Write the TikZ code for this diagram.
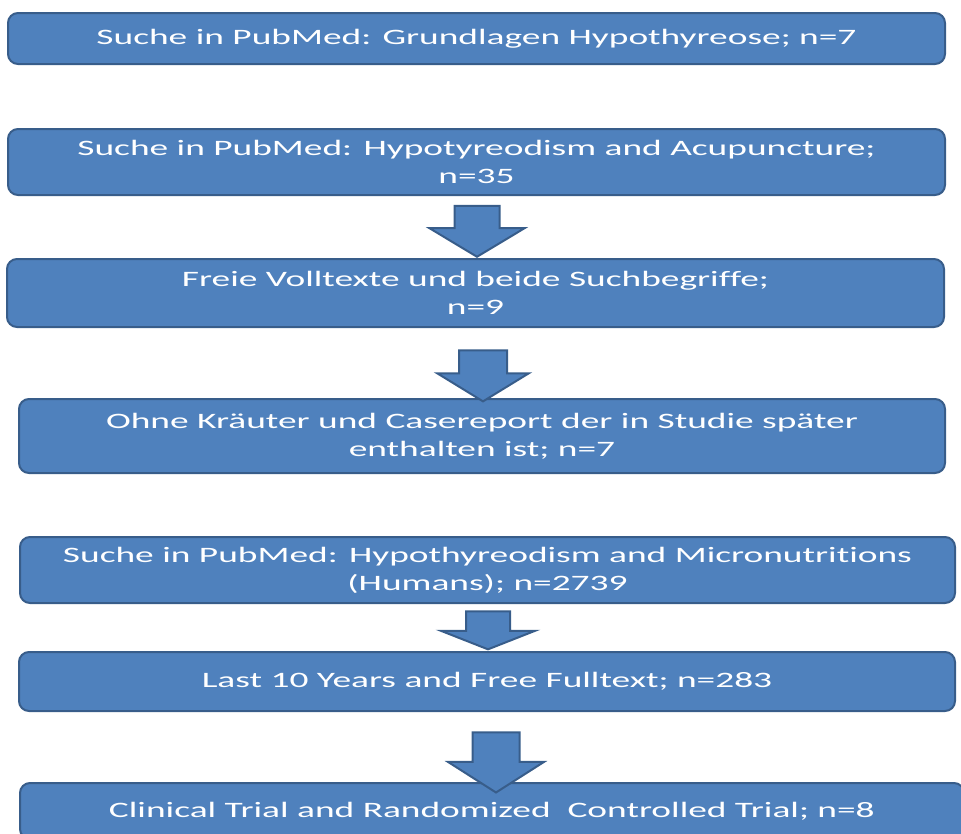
\documentclass[tikz,border=0pt]{standalone}
\usepackage{fontspec}
\newfontfamily\boxfont[FakeStretch=1.7,Ligatures=NoCommon]{Carlito}
\usetikzlibrary{shapes.arrows}
\definecolor{BoxBlue}{HTML}{4F81BD}
\definecolor{BoxEdge}{HTML}{385D8A}

\begin{document}
\begin{tikzpicture}[
  x=1pt,y=1pt,
  every node/.style={font=\boxfont\fontsize{22}{28}\selectfont},
  stage/.style={draw=BoxEdge,line width=2pt,rounded corners=10pt,fill=BoxBlue,
    text=white,align=center,inner sep=0pt},
  down/.style={single arrow,shape border rotate=270,draw=BoxEdge,line width=2pt,
    fill=BoxBlue,inner ysep=0pt}
]
  \useasboundingbox (0,0) rectangle (961,-833);
  \clip (0,0) rectangle (961,-833);
  % search blocks
  \node[stage,minimum width=937,minimum height=51] (grund) at (476.5,-38.5)
    {Suche in PubMed: Grundlagen Hypothyreose; n=7};
  \node[stage,minimum width=937,minimum height=66] (acu) at (476.5,-162)
    {Suche in PubMed: Hypotyreodism and Acupuncture;\\n=35};
  \node[stage,minimum width=937,minimum height=68] (frei) at (475.5,-293)
    {Freie Volltexte und beide Suchbegriffe;\\n=9};
  \node[stage,minimum width=926,minimum height=74] (ohne) at (482,-436)
    {Ohne Kräuter und Casereport der in Studie später\\enthalten ist; n=7};
  \node[stage,minimum width=935,minimum height=66] (micro) at (487.5,-570)
    {Suche in PubMed: Hypothyreodism and Micronutritions\\(Humans); n=2739};
  \node[stage,minimum width=936,minimum height=59] (last) at (487,-681.5)
    {Last 10 Years and Free Fulltext; n=283};
  \node[stage,minimum width=944,minimum height=56] (trial) at (492,-811)
    {Clinical Trial and Randomized\ \ Controlled Trial; n=8};
  % block arrows
  \node[down,inner xsep=21.5pt,minimum height=51,minimum width=93,
    single arrow head extend=25,single arrow tip angle=118] (a1) at (477,-224.5) {};
  \node[down,inner xsep=23pt,minimum height=51,minimum width=89,
    single arrow head extend=21.5,single arrow tip angle=117] (a2) at (483,-368.5) {};
  \node[down,inner xsep=21pt,minimum height=38,minimum width=92,
    single arrow head extend=25,single arrow tip angle=137] (a3) at (488,-626) {};
  \node[down,inner xsep=22.5pt,minimum height=60,minimum width=94,
    single arrow head extend=24.5,single arrow tip angle=115] (a4) at (496,-755) {};
\end{tikzpicture}
\end{document}
